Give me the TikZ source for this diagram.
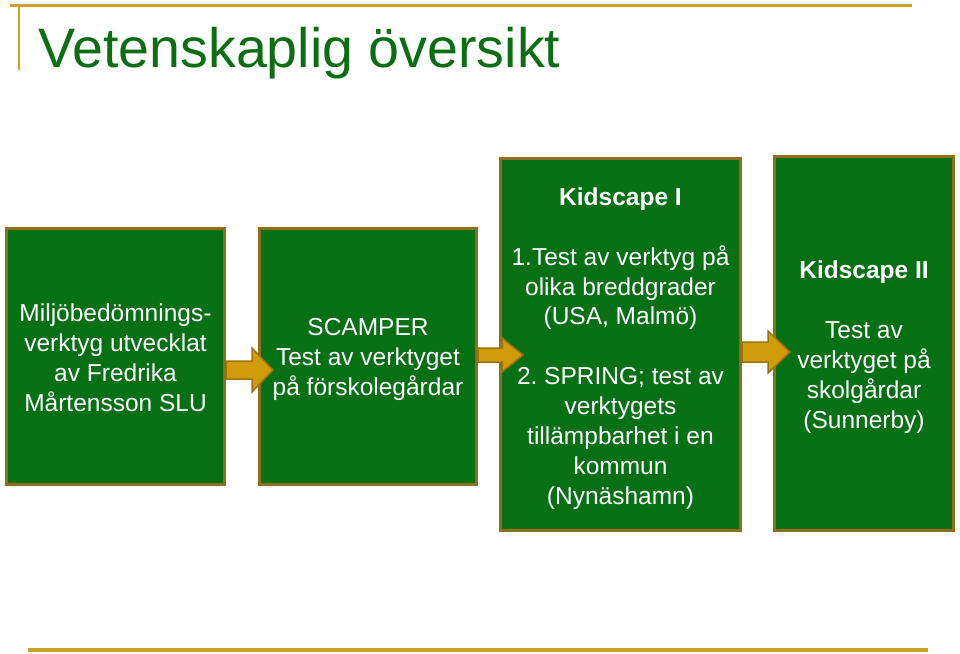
\documentclass[tikz,border=0pt]{standalone}
\usepackage{fontspec}
\setmainfont{Liberation Sans}
\frenchspacing
\definecolor{boxgreen}{RGB}{8,112,20}
\definecolor{boxborder}{RGB}{140,112,30}
\definecolor{titlegreen}{RGB}{12,110,18}
\definecolor{gold}{RGB}{208,156,12}
\definecolor{golddark}{RGB}{160,115,10}
\definecolor{rulegold}{RGB}{205,160,40}
\begin{document}
\begin{tikzpicture}[x=1pt,y=-1pt,
  box/.style={draw=boxborder, line width=3pt, fill=boxgreen, inner sep=0pt},
  boxtext/.style={text=white, align=center, inner sep=0pt,
    font=\fontsize{24.5}{29.9}\selectfont},
  blockarrow/.style={fill=gold, draw=golddark, line width=1.5pt, line join=miter},
  rule/.style={draw=rulegold, line width=3pt}]
\useasboundingbox (0,0) rectangle (960,653);
% rules
\draw[rule] (10,5) -- (912,5);
\draw[draw=rulegold, line width=1.8pt] (19,5) -- (19,70);
\draw[rule, line width=3.5pt] (28,650) -- (928,650);
% title
\node[anchor=base west, inner sep=0pt, text=titlegreen,
  font=\fontsize{55.6}{60}\selectfont] (title) at (38,67) {Vetenskaplig översikt};
% boxes
\node[box, minimum width=218pt, minimum height=256pt] (b1) at (115.5,356.5) {};
\node[box, minimum width=217pt, minimum height=256pt] (b2) at (368,356.5) {};
\node[box, minimum width=240pt, minimum height=372pt] (b3) at (620.5,344.5) {};
\node[box, minimum width=179pt, minimum height=374pt] (b4) at (864,343.5) {};
% texts
\node[boxtext] (t1) at ([yshift=-1pt]b1.center)
  {Miljöbedömnings-\\verktyg utvecklat\\av Fredrika\\Mårtensson SLU};
\node[boxtext] (t2) at ([yshift=-3pt]b2.center)
  {SCAMPER\\Test av verktyget\\på förskolegårdar};
\node[boxtext] (t3) at ([yshift=-4pt]b3.center)
  {\textbf{Kidscape I}\\[29.9pt]1.Test av verktyg på\\olika breddgrader\\(USA, Malmö)\\[29.9pt]2. SPRING; test av\\verktygets\\tillämpbarhet i en\\kommun\\(Nynäshamn)};
\node[boxtext] (t4) at ([yshift=-3.5pt]b4.center)
  {\textbf{Kidscape II}\\[29.9pt]Test av\\verktyget på\\skolgårdar\\(Sunnerby)};
% block arrows
\draw[blockarrow] (226,361) -- (252,361) -- (252,348) -- (273,370) -- (252,392)
  -- (252,379) -- (226,379) -- cycle;
\draw[blockarrow] (478,348) -- (502,348) -- (502,338) -- (523,355) -- (502,372)
  -- (502,362) -- (478,362) -- cycle;
\draw[blockarrow] (742,342) -- (768,342) -- (768,331) -- (790,352) -- (768,373)
  -- (768,362) -- (742,362) -- cycle;
\end{tikzpicture}
\end{document}
